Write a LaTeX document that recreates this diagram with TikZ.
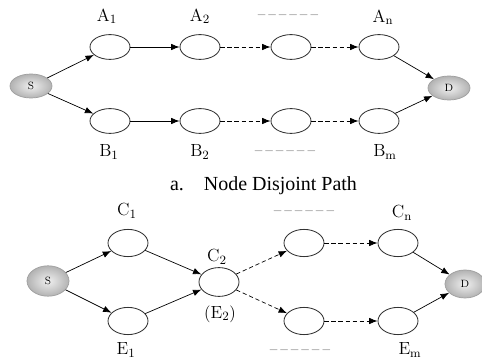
\documentclass[tikz,border=0pt]{standalone}
\usepackage{amsmath}
\usepackage{fontspec}
\newfontfamily\capfont{Liberation Serif}
\usepackage{tikz}
\usetikzlibrary{shapes,shapes.geometric}
\usetikzlibrary{positioning, arrows.meta}

\newcommand{\dashrow}{--\kern2.1pt--\kern2.1pt--\kern2.1pt--\kern2.1pt--\kern2.1pt--}

\tikzset{
    hop/.style={ellipse, draw=black!80, line width=0.6pt, minimum width=1cm, minimum height=0.62cm, inner sep=0pt},
    endpt/.style={ellipse, draw=gray!75, line width=0.5pt, shading=radial, inner color=gray!12, outer color=gray!60, minimum width=1.05cm, minimum height=0.6cm, inner sep=0pt, font=\fontsize{7.5}{8}\selectfont},
    lbl/.style={font=\fontsize{12.5}{14}\selectfont, inner sep=0pt},
    dashtxt/.style={font=\fontsize{11}{12}\selectfont, inner sep=0pt},
    link/.style={-{Latex[length=6pt,width=4.6pt]}, line width=0.5pt},
    dlink/.style={link, dash pattern=on 3pt off 2pt},
}

\begin{document}
\begin{tikzpicture}[x=0.025cm, y=-0.025cm]
    \useasboundingbox (0,0) rectangle (482,360);

    % Top: node disjoint paths
    \node[endpt] (s1) at (31,86) {S};
    \node[endpt] (d1) at (449,88) {D};
    \node[hop] (a1) at (110,47) {};
    \node[hop] (a2) at (200,47) {};
    \node[hop] (a3) at (291,47) {};
    \node[hop] (an) at (379,47) {};
    \node[hop] (b1) at (110,121) {};
    \node[hop] (b2) at (200,121) {};
    \node[hop] (b3) at (291,121) {};
    \node[hop] (bm) at (379,121) {};

    % Labels (top)
    \node[lbl] (la1) at (107,16) {$\mathrm{A}_1$};
    \node[lbl] (la2) at (200,16) {$\mathrm{A}_2$};
    \node[dashtxt] (lad) at (288,17) {\dashrow};
    \node[lbl] (lan) at (383,17) {$\mathrm{A}_\mathrm{n}$};
    \node[lbl] (lb1) at (109,152) {$\mathrm{B}_1$};
    \node[lbl] (lb2) at (200,152) {$\mathrm{B}_2$};
    \node[dashtxt] (lbd) at (285,153) {\dashrow};
    \node[lbl] (lbm) at (385,152) {$\mathrm{B}_\mathrm{m}$};

    % Links (top)
    \foreach \u/\v in {s1/a1, a1/a2, an/d1, s1/b1, b1/b2, bm/d1} {
        \draw[link] (\u) -- (\v);
    }
    \foreach \u/\v in {a2/a3, a3/an, b2/b3, b3/bm} {
        \draw[dlink] (\u) -- (\v);
    }

    % Caption
    \node[inner sep=0pt, font=\capfont\fontsize{14.2}{16}\selectfont] (cap) at (263.5,186) {a.\hspace{1em}Node Disjoint Path};

    % Bottom: paths sharing one node
    \node[endpt, minimum width=1.05cm, minimum height=0.76cm] (s2) at (48,281) {S};
    \node[endpt, minimum width=1cm, minimum height=0.7cm] (d2) at (465,284) {D};
    \node[hop, minimum height=0.68cm] (c1) at (128,243) {};
    \node[hop, minimum height=0.68cm] (e1) at (128,321) {};
    \node[hop, minimum height=0.72cm] (c2) at (219,282) {};
    \node[hop, minimum height=0.68cm] (c3) at (304,243) {};
    \node[hop, minimum height=0.68cm] (cn) at (398,243) {};
    \node[hop, minimum height=0.68cm] (e3) at (304,321) {};
    \node[hop, minimum height=0.68cm] (em) at (398,321) {};

    % Labels (bottom)
    \node[lbl] (lc1) at (127,211) {$\mathrm{C}_1$};
    \node[lbl] (lc2) at (217,257) {$\mathrm{C}_2$};
    \node[lbl] (le2) at (220,314) {$(\mathrm{E}_2)$};
    \node[lbl] (le1) at (126,350) {$\mathrm{E}_1$};
    \node[dashtxt] (lcd) at (304,213) {\dashrow};
    \node[lbl] (lcn) at (402,213) {$\mathrm{C}_\mathrm{n}$};
    \node[dashtxt] (led) at (300,352) {\dashrow};
    \node[lbl] (lem) at (410,350) {$\mathrm{E}_\mathrm{m}$};

    % Links (bottom)
    \foreach \u/\v in {s2/c1, s2/e1, c1/c2, e1/c2, cn/d2, em/d2} {
        \draw[link] (\u) -- (\v);
    }
    \foreach \u/\v in {c2/c3, c2/e3, c3/cn, e3/em} {
        \draw[dlink] (\u) -- (\v);
    }
\end{tikzpicture}
\end{document}
